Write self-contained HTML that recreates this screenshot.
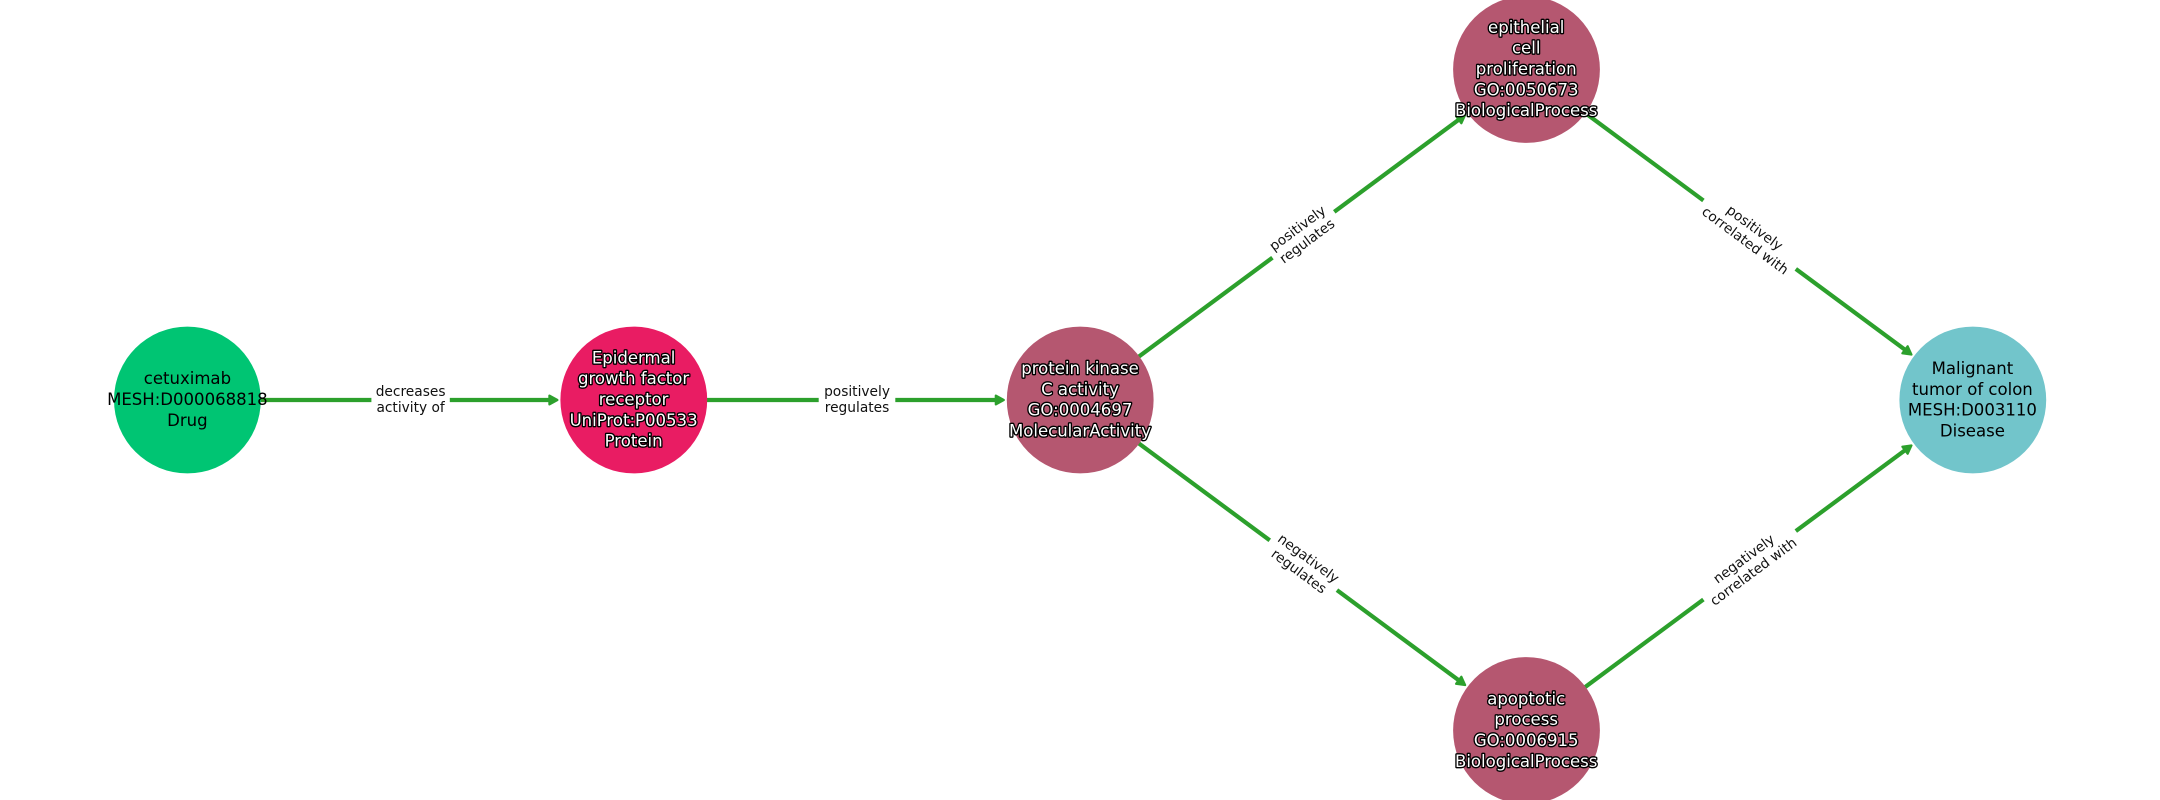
<!DOCTYPE html>
<html>
<head>
<meta charset="utf-8">
<style>
html,body{margin:0;padding:0;background:#fff;width:2160px;height:800px;overflow:hidden}
svg{display:block}
text{font-family:"DejaVu Sans","Liberation Sans",sans-serif;text-anchor:middle}
.n{font-size:16.55px;fill:#000}
.w{font-size:16.55px;fill:#fff;stroke:#000;stroke-width:2.7px;paint-order:stroke fill;stroke-linejoin:round}
.e{font-size:13.75px;fill:#111}
.l{stroke:#2ca02c;stroke-width:4.2;fill:none}
.a{fill:#2ca02c;stroke:#2ca02c;stroke-width:2.2;stroke-linejoin:round}
</style>
</head>
<body>
<svg width="2160" height="800" viewBox="0 0 2160 800" xmlns="http://www.w3.org/2000/svg">
<rect width="2160" height="800" fill="#fff"/>

<!-- edge lines and arrowheads -->
<g transform="translate(187.4,400)"><line class="l" x1="0" x2="364"/><polygon class="a" points="370,0 362,-4.4 362,4.4"/></g>
<g transform="translate(633.8,400)"><line class="l" x1="0" x2="364"/><polygon class="a" points="370,0 362,-4.4 362,4.4"/></g>
<g transform="translate(1080.2,400) rotate(-36.52)"><line class="l" x1="0" x2="473"/><polygon class="a" points="479,0 471,-4.4 471,4.4"/></g>
<g transform="translate(1080.2,400) rotate(36.52)"><line class="l" x1="0" x2="473"/><polygon class="a" points="479,0 471,-4.4 471,4.4"/></g>
<g transform="translate(1526.5,69.5) rotate(36.52)"><line class="l" x1="0" x2="473"/><polygon class="a" points="479,0 471,-4.4 471,4.4"/></g>
<g transform="translate(1526.5,730.5) rotate(-36.52)"><line class="l" x1="0" x2="473"/><polygon class="a" points="479,0 471,-4.4 471,4.4"/></g>

<!-- nodes -->
<circle cx="187.4" cy="400" r="73.4" fill="#00c573"/>
<circle cx="633.8" cy="400" r="73.4" fill="#e91c63"/>
<circle cx="1080.2" cy="400" r="73.4" fill="#b55770"/>
<circle cx="1526.5" cy="69.5" r="73.4" fill="#b55770"/>
<circle cx="1526.5" cy="730.5" r="73.4" fill="#b55770"/>
<circle cx="1972.8" cy="400" r="73.4" fill="#72c5cb"/>

<!-- edge labels -->
<g transform="translate(410.6,400)"><rect x="-39.2" y="-18" width="78.4" height="36" fill="#fff"/><text class="e" y="-4">decreases</text><text class="e" y="12">activity of</text></g>
<g transform="translate(857,400)"><rect x="-38.3" y="-18" width="76.6" height="36" fill="#fff"/><text class="e" y="-4">positively</text><text class="e" y="12">regulates</text></g>
<g transform="translate(1303.3,234.7) rotate(-36.52)"><rect x="-38.5" y="-18" width="77" height="36" fill="#fff"/><text class="e" x="-0.8" y="-4">positively</text><text class="e" x="-0.8" y="12">regulates</text></g>
<g transform="translate(1303.3,565.3) rotate(36.52)"><rect x="-41.8" y="-18" width="83.6" height="36" fill="#fff"/><text class="e" y="-4">negatively</text><text class="e" y="12">regulates</text></g>
<g transform="translate(1749.6,234.7) rotate(36.52)"><rect x="-57.5" y="-18" width="115" height="36" fill="#fff"/><text class="e" y="-4">positively</text><text class="e" y="12">correlated with</text></g>
<g transform="translate(1749.6,565.3) rotate(-36.52)"><rect x="-57.5" y="-18" width="115" height="36" fill="#fff"/><text class="e" x="-0.8" y="-4">negatively</text><text class="e" x="-0.8" y="12">correlated with</text></g>

<!-- node labels -->
<text class="n" x="187.4" y="384">cetuximab</text>
<text class="n" x="187.4" y="405">MESH:D000068818</text>
<text class="n" x="187.4" y="426">Drug</text>

<text class="w" x="633.6" y="363.4">Epidermal</text>
<text class="w" x="633.6" y="384.2">growth factor</text>
<text class="w" x="633.6" y="405">receptor</text>
<text class="w" x="633.6" y="425.8">UniProt:P00533</text>
<text class="w" x="633.6" y="446.6">Protein</text>

<text class="w" x="1080" y="374">protein kinase</text>
<text class="w" x="1080" y="394.8">C activity</text>
<text class="w" x="1080" y="415.6">GO:0004697</text>
<text class="w" x="1080" y="436.4">MolecularActivity</text>

<text class="w" x="1526.2" y="32.9">epithelial</text>
<text class="w" x="1526.2" y="53.7">cell</text>
<text class="w" x="1526.2" y="74.5">proliferation</text>
<text class="w" x="1526.2" y="95.3">GO:0050673</text>
<text class="w" x="1526.2" y="116.1">BiologicalProcess</text>

<text class="w" x="1526.2" y="704.4">apoptotic</text>
<text class="w" x="1526.2" y="725.2">process</text>
<text class="w" x="1526.2" y="746">GO:0006915</text>
<text class="w" x="1526.2" y="766.8">BiologicalProcess</text>

<text class="n" x="1972.4" y="374">Malignant</text>
<text class="n" x="1972.4" y="394.8">tumor of colon</text>
<text class="n" x="1972.4" y="415.6">MESH:D003110</text>
<text class="n" x="1972.4" y="436.4">Disease</text>
</svg>
</body>
</html>
